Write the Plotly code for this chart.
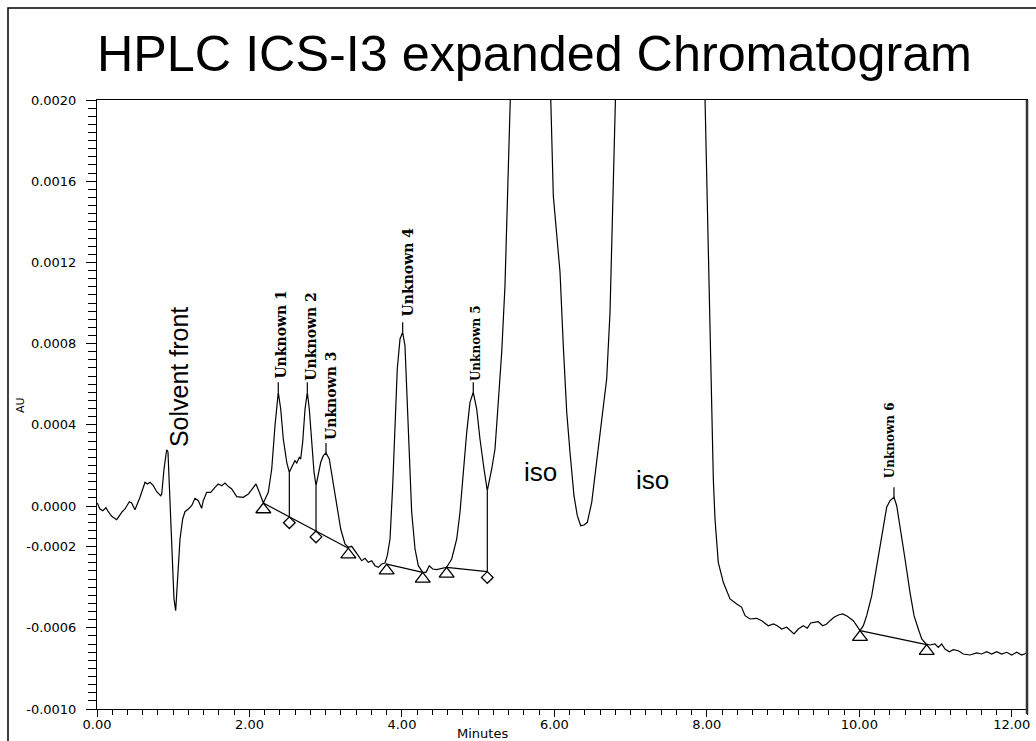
import numpy as np
import plotly.graph_objects as go

# ---------------- data ----------------
time_min = [
    0.004, 0.039, 0.075, 0.118, 0.148, 0.193, 0.258, 0.324, 0.367, 0.424,
    0.455, 0.498, 0.564, 0.630, 0.660, 0.695, 0.739, 0.783, 0.836, 0.849,
    0.879, 0.914, 0.931, 0.957, 0.980, 1.010, 1.032, 1.053, 1.089, 1.124,
    1.154, 1.198, 1.242, 1.285, 1.329, 1.373, 1.394, 1.439, 1.492, 1.548,
    1.591, 1.636, 1.679, 1.722, 1.767, 1.833, 1.919, 1.985, 2.050, 2.086,
    2.138, 2.182, 2.247, 2.292, 2.335, 2.365, 2.378, 2.410, 2.444, 2.489,
    2.523, 2.554, 2.597, 2.620, 2.654, 2.672, 2.698, 2.729, 2.759, 2.785,
    2.817, 2.847, 2.873, 2.903, 2.935, 2.969, 3.004, 3.047, 3.092, 3.144,
    3.197, 3.253, 3.297, 3.341, 3.385, 3.428, 3.472, 3.516, 3.559, 3.604,
    3.647, 3.690, 3.735, 3.778, 3.808, 3.844, 3.879, 3.909, 3.939, 3.975,
    4.010, 4.040, 4.063, 4.093, 4.128, 4.172, 4.215, 4.273, 4.316, 4.359,
    4.404, 4.456, 4.522, 4.587, 4.653, 4.719, 4.762, 4.805, 4.850, 4.893,
    4.936, 4.981, 5.024, 5.077, 5.120, 5.178, 5.221, 5.264, 5.309, 5.352,
    5.396, 5.418, 5.444, 5.700, 5.929, 5.952, 5.986, 6.074, 6.117, 6.162,
    6.205, 6.257, 6.301, 6.345, 6.389, 6.432, 6.490, 6.555, 6.621, 6.686,
    6.730, 6.760, 6.786, 6.808, 6.821, 7.400, 7.963, 7.976, 8.019, 8.064,
    8.085, 8.107, 8.150, 8.216, 8.304, 8.392, 8.457, 8.501, 8.566, 8.654,
    8.720, 8.806, 8.872, 8.924, 8.982, 9.048, 9.091, 9.143, 9.200, 9.265,
    9.318, 9.362, 9.406, 9.462, 9.520, 9.572, 9.616, 9.668, 9.725, 9.782,
    9.843, 9.921, 9.966, 10.009, 10.053, 10.097, 10.163, 10.228, 10.294, 10.359,
    10.403, 10.425, 10.455, 10.491, 10.534, 10.600, 10.665, 10.718, 10.774, 10.819,
    10.875, 10.927, 10.993, 11.036, 11.081, 11.124, 11.181, 11.233, 11.299, 11.364,
    11.452, 11.540, 11.606, 11.671, 11.737, 11.802, 11.868, 11.934, 11.999, 12.065,
    12.131, 12.196,
]
absorbance_au = [
    0.0000148, -0.0000148, -0.0000232, -0.0000084, -0.0000281, -0.0000507, -0.0000675, -0.0000310, -0.0000148, 0.0000212,
    0.0000148, -0.0000182, 0.0000429, 0.0001167, 0.0001084, 0.0001167, 0.0001000, 0.0000704, 0.0000507, 0.0000591,
    0.0001823, 0.0002773, 0.0002660, 0.0000345, -0.0002448, -0.0004581, -0.0005157, -0.0003926, -0.0001626, -0.0000640,
    -0.0000281, -0.0000148, 0.0000015, 0.0000379, 0.0000261, -0.0000113, 0.0000261, 0.0000675, 0.0000675, 0.0000921,
    0.0001084, 0.0001000, 0.0001133, 0.0000970, 0.0000837, 0.0000458, 0.0000429, 0.0000591, 0.0000921, 0.0001084,
    0.0000591, 0.0000148, 0.0000675, 0.0001823, 0.0003956, 0.0005433, 0.0005601, 0.0004778, 0.0003300, 0.0002153,
    0.0001660, 0.0001906, 0.0002231, 0.0002118, 0.0002399, 0.0002315, 0.0003138, 0.0004778, 0.0005601, 0.0004778,
    0.0002970, 0.0001660, 0.0001000, 0.0001660, 0.0002153, 0.0002478, 0.0002611, 0.0002315, 0.0001330, 0.0000015,
    -0.0001133, -0.0001872, -0.0002034, -0.0001985, -0.0002202, -0.0002448, -0.0002695, -0.0002576, -0.0002773, -0.0002695,
    -0.0002941, -0.0003020, -0.0002857, -0.0002808, -0.0002448, -0.0001626, 0.0001000, 0.0004286, 0.0006749, 0.0008226,
    0.0008557, 0.0007896, 0.0005926, 0.0002645, -0.0000310, -0.0002118, -0.0002941, -0.0003266, -0.0003266, -0.0002941,
    -0.0003103, -0.0003138, -0.0003069, -0.0003020, -0.0002611, -0.0001626, -0.0000310, 0.0001660, 0.0003630, 0.0005108,
    0.0005601, 0.0004778, 0.0003300, 0.0001823, 0.0000754, 0.0001823, 0.0002808, 0.0005108, 0.0007571, 0.0010852,
    0.0016931, 0.0020098, 0.0023000, 0.0045000, 0.0023000, 0.0020098, 0.0015285, 0.0011512, 0.0007896, 0.0004616,
    0.0002645, 0.0000507, -0.0000478, -0.0000970, -0.0000936, -0.0000803, 0.0000182, 0.0002153, 0.0004123, 0.0006256,
    0.0009542, 0.0013645, 0.0017749, 0.0020098, 0.0023000, 0.0060000, 0.0023000, 0.0020098, 0.0012822, 0.0006256,
    0.0001330, -0.0000640, -0.0002773, -0.0003759, -0.0004581, -0.0004827, -0.0004990, -0.0005404, -0.0005566, -0.0005532,
    -0.0005650, -0.0005897, -0.0005813, -0.0005897, -0.0006059, -0.0005975, -0.0006143, -0.0006305, -0.0006059, -0.0005897,
    -0.0006024, -0.0005763, -0.0005729, -0.0005699, -0.0005897, -0.0005813, -0.0005650, -0.0005483, -0.0005369, -0.0005320,
    -0.0005433, -0.0005650, -0.0005897, -0.0006143, -0.0005897, -0.0005404, -0.0004419, -0.0002941, -0.0001463, -0.0000064,
    0.0000261, 0.0000345, 0.0000429, 0.0000015, -0.0000970, -0.0002611, -0.0004251, -0.0005404, -0.0006059, -0.0006552,
    -0.0006798, -0.0006847, -0.0006798, -0.0006961, -0.0006798, -0.0007044, -0.0007177, -0.0007079, -0.0007128, -0.0007290,
    -0.0007340, -0.0007241, -0.0007290, -0.0007177, -0.0007290, -0.0007177, -0.0007290, -0.0007207, -0.0007340, -0.0007207,
    -0.0007340, -0.0007241,
]

peak_names = ["Unknown 1", "Unknown 2", "Unknown 3", "Unknown 4", "Unknown 5", "Unknown 6"]
peak_times = [2.378, 2.759, 3.004, 4.010, 4.936, 10.455]
peak_heights = [0.000560, 0.000560, 0.000261, 0.000856, 0.000560, 0.0000429]

# integration baselines (start / end of each segment)
baseline_start_t = [2.182, 3.800, 4.587, 10.009]
baseline_start_au = [0.0000148, -0.000286, -0.000302, -0.000614]
baseline_end_t = [3.297, 4.273, 5.120, 10.884]
baseline_end_au = [-0.000208, -0.000327, -0.000323, -0.000683]
baseline_end_is_drop = [False, False, True, False]

# perpendicular drop lines (valley time, baseline segment index)
drop_times = [2.523, 2.873, 5.120]
drop_segment = [0, 0, 2]

x_tick_values = [0, 2, 4, 6, 8, 10, 12]
x_tick_labels = ["0.00", "2.00", "4.00", "6.00", "8.00", "10.00", "12.00"]
y_tick_values = [0.0020, 0.0016, 0.0012, 0.0008, 0.0004, 0.0, -0.0002, -0.0006, -0.0010]
y_tick_labels = ["0.0020", "0.0016", "0.0012", "0.0008", "0.0004", "0.0000", "-0.0002", "-0.0006", "-0.0010"]

# ---------------- layout geometry ----------------
W, H = 1036, 741
ML, MR, MT, MB = 97, 9, 100, 32
PLOT_W = W - ML - MR
PLOT_H = H - MT - MB
X_RANGE = [0.0, 12.2]
Y_RANGE = [-0.0010, 0.0020]
PX_Y = (Y_RANGE[1] - Y_RANGE[0]) / PLOT_H  # data units per pixel


def paper_x(px):
    return (px - ML) / PLOT_W


def paper_y(py):
    return (H - MB - py) / PLOT_H


fig = go.Figure()

# chromatogram
fig.add_trace(go.Scatter(x=time_min, y=absorbance_au, mode="lines",
                         line=dict(color="black", width=1.2), hoverinfo="skip"))

# baselines
for ts, ys, te, ye in zip(baseline_start_t, baseline_start_au, baseline_end_t, baseline_end_au):
    fig.add_trace(go.Scatter(x=[ts, te], y=[ys, ye], mode="lines",
                             line=dict(color="black", width=1.2), hoverinfo="skip"))

# drop lines and diamond markers
diam_x, diam_y = [], []
for t, seg in zip(drop_times, drop_segment):
    yb = float(np.interp(t, [baseline_start_t[seg], baseline_end_t[seg]],
                         [baseline_start_au[seg], baseline_end_au[seg]]))
    yt = float(np.interp(t, time_min, absorbance_au))
    fig.add_trace(go.Scatter(x=[t, t], y=[yt, yb], mode="lines",
                             line=dict(color="black", width=1.2), hoverinfo="skip"))
    diam_x.append(t)
    diam_y.append(yb - 5.85 * PX_Y)

# triangle markers at baseline start/end points
tri_x, tri_y = [], []
for i in range(len(baseline_start_t)):
    tri_x.append(baseline_start_t[i])
    tri_y.append(baseline_start_au[i] - 6.5 * PX_Y)
    if not baseline_end_is_drop[i]:
        tri_x.append(baseline_end_t[i])
        tri_y.append(baseline_end_au[i] - 6.5 * PX_Y)

fig.add_trace(go.Scatter(x=tri_x, y=tri_y, mode="markers", hoverinfo="skip",
                         marker=dict(symbol="triangle-up-open", size=13, color="black",
                                     line=dict(color="black", width=1.3))))
fig.add_trace(go.Scatter(x=diam_x, y=diam_y, mode="markers", hoverinfo="skip",
                         marker=dict(symbol="diamond-open", size=9, color="black",
                                     line=dict(color="black", width=1.3))))

# peak ticks and labels
label_sizes = [14, 14, 14, 14, 12, 12]
label_xshift = [3, 4, 5, 5, 3.5, -4]
label_yshift = [12, 10, 11, 14, 9, 17]
for name, t, h, fs, xs, ys in zip(peak_names, peak_times, peak_heights,
                                  label_sizes, label_xshift, label_yshift):
    fig.add_shape(type="line", x0=t, x1=t, y0=h, y1=h + 10 * PX_Y,
                  line=dict(color="black", width=1.2), layer="above")
    fig.add_annotation(x=t, y=h, text=name, showarrow=False, textangle=-90,
                       xanchor="center", yanchor="bottom", xshift=xs, yshift=ys,
                       font=dict(family="DejaVu Serif", size=fs, color="black", weight="bold"))

# free text labels
fig.add_annotation(x=1.076, y=0.000635, text="Solvent front", showarrow=False, textangle=-90,
                   xanchor="center", yanchor="middle",
                   font=dict(family="Liberation Sans", size=25, color="black"))
fig.add_annotation(x=5.818, y=0.000167, text="iso", showarrow=False,
                   xanchor="center", yanchor="middle",
                   font=dict(family="Liberation Sans", size=26, color="black"))
fig.add_annotation(x=7.287, y=0.000128, text="iso", showarrow=False,
                   xanchor="center", yanchor="middle",
                   font=dict(family="Liberation Sans", size=26, color="black"))

# title and axis titles
fig.add_annotation(xref="paper", yref="paper", x=paper_x(W / 2 + 16), y=1.0, xanchor="center",
                   yanchor="bottom", yshift=16, text="HPLC ICS-I3 expanded Chromatogram",
                   showarrow=False, font=dict(family="Liberation Sans", size=50.3, color="black"))
fig.add_annotation(xref="paper", yref="paper", x=paper_x(482), y=paper_y(733), text="Minutes",
                   xanchor="center", yanchor="middle", showarrow=False,
                   font=dict(family="DejaVu Sans", size=13, color="black"))
fig.add_annotation(xref="paper", yref="paper", x=paper_x(21), y=paper_y(405), text="AU",
                   xanchor="center", yanchor="middle", textangle=-90, showarrow=False,
                   font=dict(family="DejaVu Sans", size=11, color="black"))

# outer frame and plot frame
fig.add_shape(type="rect", xref="paper", yref="paper", x0=paper_x(8), x1=paper_x(1045),
              y0=paper_y(760), y1=paper_y(8), line=dict(color="black", width=1.5), layer="above")
fig.add_shape(type="line", xref="paper", yref="paper", x0=1, x1=1, y0=paper_y(714), y1=1,
              line=dict(color="#333333", width=2.5), layer="above")

tick_font = dict(family="DejaVu Sans", size=13, color="black")
fig.update_xaxes(range=X_RANGE, tickmode="array", tickvals=x_tick_values, ticktext=x_tick_labels,
                 ticks="outside", ticklen=7, tickwidth=1, tickcolor="black",
                 minor=dict(tickmode="linear", tick0=0, dtick=0.2, ticks="outside", ticklen=5,
                            tickcolor="black", tickwidth=1, showgrid=False),
                 showgrid=False, zeroline=False, showline=True, linecolor="black", linewidth=1,
                 mirror=True, tickfont=tick_font, ticklabelstandoff=-4)
fig.update_yaxes(range=Y_RANGE, tickmode="array", tickvals=y_tick_values, ticktext=y_tick_labels,
                 ticks="outside", ticklen=10, tickwidth=1, tickcolor="black",
                 minor=dict(tickmode="linear", tick0=0, dtick=0.00004, ticks="outside", ticklen=8,
                            tickcolor="black", tickwidth=1, showgrid=False),
                 showgrid=False, zeroline=False, showline=True, linecolor="black", linewidth=1,
                 mirror=True, tickfont=tick_font, ticklabelstandoff=7)

fig.update_layout(width=W, height=H, margin=dict(l=ML, r=MR, t=MT, b=MB, autoexpand=False),
                  plot_bgcolor="white", paper_bgcolor="white", showlegend=False)

fig.write_html("out.html", config={"displayModeBar": False},
               post_script="document.body.style.margin='0px';document.body.style.overflow='hidden';")
